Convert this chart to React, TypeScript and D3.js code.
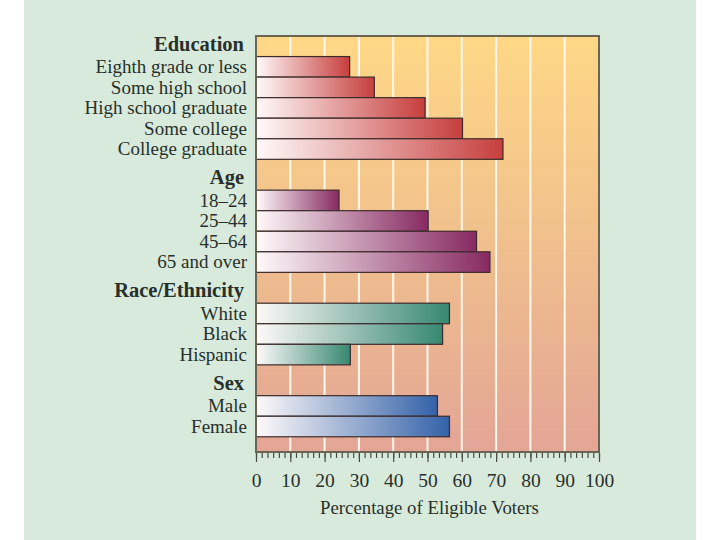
import React, { useEffect, useRef } from 'react';
import * as d3 from 'd3';

const groupNames = ['Education', 'Age', 'Race/Ethnicity', 'Sex'];

const educationLabels = [
  'Eighth grade or less',
  'Some high school',
  'High school graduate',
  'Some college',
  'College graduate',
];
const educationValues = [27.3, 34.5, 49.3, 60.2, 72.0];

const ageLabels = ['18–24', '25–44', '45–64', '65 and over'];
const ageValues = [24.2, 50.2, 64.3, 68.2];

const raceLabels = ['White', 'Black', 'Hispanic'];
const raceValues = [56.4, 54.4, 27.5];

const sexLabels = ['Male', 'Female'];
const sexValues = [52.9, 56.4];

const xTickValues = [0, 10, 20, 30, 40, 50, 60, 70, 80, 90, 100];
const axisTitle = 'Percentage of Eligible Voters';

const groupColors = ['#c63f3d', '#872a62', '#378871', '#3362a9'];

const FONT = '"Liberation Serif", "Times New Roman", serif';
const TEXT = '#27302b';

const VoterChart: React.FC = () => {
  const svgRef = useRef<SVGSVGElement | null>(null);

  useEffect(() => {
    const svg = d3.select(svgRef.current);
    svg.selectAll('*').remove();

    const groups = [
      { name: groupNames[0], labels: educationLabels, values: educationValues },
      { name: groupNames[1], labels: ageLabels, values: ageValues },
      { name: groupNames[2], labels: raceLabels, values: raceValues },
      { name: groupNames[3], labels: sexLabels, values: sexValues },
    ];

    // rows measured in "bar units"; headers take 1 (first) or 1.5 units
    let u = 0;
    const headers: { name: string; u: number }[] = [];
    const rows: { label: string; value: number; u: number; gi: number }[] = [];
    groups.forEach((g, gi) => {
      u += gi === 0 ? 1 : 1.5;
      headers.push({ name: g.name, u });
      g.labels.forEach((label, i) => {
        rows.push({ label, value: g.values[i], u, gi });
        u += 1;
      });
    });
    const totalUnits = u + 0.74;

    const plot = { left: 256, right: 599, top: 36, bottom: 452 };
    const x = d3.scaleLinear().domain([0, 100]).range([plot.left, plot.right]);
    const y = d3.scaleLinear().domain([0, totalUnits]).range([plot.top, plot.bottom]);

    const defs = svg.append('defs');
    const bg = defs
      .append('linearGradient')
      .attr('id', 'plotBg')
      .attr('x1', 0)
      .attr('y1', 0)
      .attr('x2', 0)
      .attr('y2', 1);
    bg.append('stop').attr('offset', '0%').attr('stop-color', '#fed886');
    bg.append('stop').attr('offset', '50%').attr('stop-color', '#f0bf8d');
    bg.append('stop').attr('offset', '100%').attr('stop-color', '#e3a596');

    groupColors.forEach((c, i) => {
      const g = defs
        .append('linearGradient')
        .attr('id', `barGrad${i}`)
        .attr('x1', 0)
        .attr('y1', 0)
        .attr('x2', 1)
        .attr('y2', 0);
      g.append('stop').attr('offset', '0%').attr('stop-color', '#fffafa');
      g.append('stop').attr('offset', '100%').attr('stop-color', c);
    });

    // page panel
    svg.append('rect').attr('width', 720).attr('height', 540).attr('fill', '#ffffff');
    svg.append('rect').attr('x', 24).attr('width', 672).attr('height', 540).attr('fill', '#d8eadb');

    // plot background
    svg
      .append('rect')
      .attr('x', plot.left)
      .attr('y', plot.top)
      .attr('width', plot.right - plot.left)
      .attr('height', plot.bottom - plot.top)
      .attr('fill', 'url(#plotBg)');

    // grid lines
    svg
      .append('g')
      .selectAll('line')
      .data(xTickValues.filter(t => t > 0 && t < 100))
      .join('line')
      .attr('x1', d => x(d))
      .attr('x2', d => x(d))
      .attr('y1', plot.top)
      .attr('y2', plot.bottom)
      .attr('stroke', '#fff7ec')
      .attr('stroke-width', 2);

    // bars
    svg
      .append('g')
      .selectAll('rect')
      .data(rows)
      .join('rect')
      .attr('x', x(0))
      .attr('y', d => y(d.u))
      .attr('width', d => x(d.value) - x(0))
      .attr('height', d => y(d.u + 1) - y(d.u))
      .attr('fill', d => `url(#barGrad${d.gi})`)
      .attr('stroke', '#3c2b2b')
      .attr('stroke-width', 1.2);

    // frame
    svg
      .append('rect')
      .attr('x', plot.left)
      .attr('y', plot.top)
      .attr('width', plot.right - plot.left)
      .attr('height', plot.bottom - plot.top)
      .attr('fill', 'none')
      .attr('stroke', '#6b6455')
      .attr('stroke-width', 2);

    // category labels
    svg
      .append('g')
      .selectAll('text')
      .data(rows)
      .join('text')
      .attr('x', 247)
      .attr('y', d => y(d.u + 0.5))
      .attr('dy', '0.33em')
      .attr('text-anchor', 'end')
      .attr('font-family', FONT)
      .attr('font-size', 19)
      .attr('fill', TEXT)
      .text(d => d.label);

    // group headers
    svg
      .append('g')
      .selectAll('text')
      .data(headers)
      .join('text')
      .attr('x', 244)
      .attr('y', d => y(d.u) - 6)
      .attr('text-anchor', 'end')
      .attr('font-family', FONT)
      .attr('font-size', 20.5)
      .attr('font-weight', 'bold')
      .attr('fill', TEXT)
      .text(d => d.name);

    // x axis: minor then major ticks
    const minorTicks = d3.range(0, 100.001, 10 / 6);
    const axisG = svg.append('g').attr('transform', `translate(0,${plot.bottom + 1})`);
    axisG
      .append('g')
      .call(d3.axisBottom(x).tickValues(minorTicks).tickSize(5).tickFormat(() => ''))
      .call(g => g.select('.domain').remove());
    axisG
      .append('g')
      .call(d3.axisBottom(x).tickValues(xTickValues).tickSize(9).tickPadding(11))
      .call(g => g.select('.domain').remove());
    axisG.selectAll('line').attr('stroke', '#4a4a44').attr('stroke-width', 1.2);
    axisG
      .selectAll('text')
      .attr('font-family', FONT)
      .attr('font-size', 19.5)
      .attr('fill', TEXT);

    svg
      .append('text')
      .attr('x', (plot.left + plot.right) / 2 + 2)
      .attr('y', 514)
      .attr('text-anchor', 'middle')
      .attr('font-family', FONT)
      .attr('font-size', 18.8)
      .attr('fill', TEXT)
      .text(axisTitle);
  }, []);

  return (
    <svg
      ref={svgRef}
      width={720}
      height={540}
      style={{ position: 'absolute', left: 0, top: 0, display: 'block' }}
    />
  );
};

export default function App() {
  return <VoterChart />;
}
